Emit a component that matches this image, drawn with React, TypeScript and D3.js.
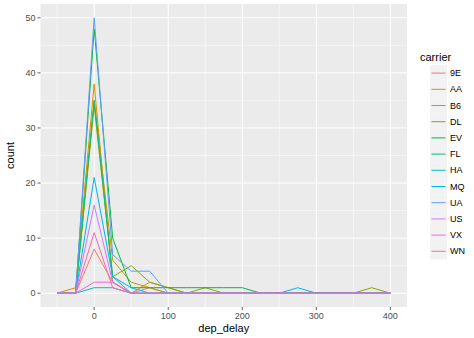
import React from "react";
import * as d3 from "d3";

const binCenters = [-50, -25, 0, 25, 50, 75, 100, 125, 150, 175, 200, 225, 250, 275, 300, 325, 350, 375, 400];
const carriers = ["9E", "AA", "B6", "DL", "EV", "FL", "HA", "MQ", "UA", "US", "VX", "WN"];
const colors = ["#F8766D", "#DE8C00", "#B79F00", "#7CAE00", "#00BA38", "#00C08B", "#00BFC4", "#00B4F0", "#619CFF", "#C77CFF", "#F564E3", "#FF64B0"];

const c9E = [0, 0, 8, 2, 0, 1, 0, 0, 0, 0, 0, 0, 0, 0, 0, 0, 0, 0, 0];
const cAA = [0, 1, 38, 2, 0, 2, 1, 0, 0, 0, 0, 0, 0, 0, 0, 0, 0, 0, 0];
const cB6 = [0, 0, 35, 6, 2, 1, 0, 0, 0, 0, 0, 0, 0, 0, 0, 0, 0, 0, 0];
const cDL = [0, 0, 34, 3, 5, 2, 1, 0, 1, 0, 0, 0, 0, 0, 0, 0, 0, 1, 0];
const cEV = [0, 0, 48, 10, 1, 1, 1, 1, 1, 1, 1, 0, 0, 0, 0, 0, 0, 0, 0];
const cFL = [0, 0, 35, 3, 0, 0, 0, 0, 0, 0, 0, 0, 0, 0, 0, 0, 0, 0, 0];
const cHA = [0, 0, 1, 1, 0, 0, 0, 0, 0, 0, 0, 0, 0, 0, 0, 0, 0, 0, 0];
const cMQ = [0, 0, 21, 3, 1, 0, 0, 0, 0, 0, 0, 0, 0, 1, 0, 0, 0, 0, 0];
const cUA = [0, 0, 50, 7, 4, 4, 0, 0, 0, 0, 0, 0, 0, 0, 0, 0, 0, 0, 0];
const cUS = [0, 0, 16, 2, 0, 0, 0, 0, 0, 0, 0, 0, 0, 0, 0, 0, 0, 0, 0];
const cVX = [0, 0, 2, 2, 0, 0, 0, 0, 0, 0, 0, 0, 0, 0, 0, 0, 0, 0, 0];
const cWN = [0, 0, 11, 1, 0, 0, 0, 0, 0, 0, 0, 0, 0, 0, 0, 0, 0, 0, 0];
const counts = [c9E, cAA, cB6, cDL, cEV, cFL, cHA, cMQ, cUA, cUS, cVX, cWN];

const xTicks = [0, 100, 200, 300, 400];
const xMinor = [-50, 50, 150, 250, 350];
const yTicks = [0, 10, 20, 30, 40, 50];
const yMinor = [5, 15, 25, 35, 45];

export default function App() {
  const W = 474, H = 338;
  const left = 40.5, right = 407, top = 4, bottom = 307;
  const x = d3.scaleLinear().domain([-72.5, 422.5]).range([left, right]);
  const y = d3.scaleLinear().domain([-2.5, 52.5]).range([bottom, top]);
  const line = d3.line<number>().x((_, i) => x(binCenters[i])).y((d) => y(d));
  const font = "'Liberation Sans', Arial, sans-serif";
  const keyH = 16.2;
  const key0 = 65;
  return (
    <svg width={W} height={H} style={{ position: "absolute", left: 0, top: 0 }} fontFamily={font}>
      <rect x={0} y={0} width={W} height={H} fill="#fff" />
      <rect x={left} y={top} width={right - left} height={bottom - top} fill="#EBEBEB" />
      {xMinor.map((t) => (
        <line key={"xm" + t} x1={x(t)} x2={x(t)} y1={top} y2={bottom} stroke="#fff" strokeWidth={0.5} />
      ))}
      {yMinor.map((t) => (
        <line key={"ym" + t} x1={left} x2={right} y1={y(t)} y2={y(t)} stroke="#fff" strokeWidth={0.5} />
      ))}
      {xTicks.map((t) => (
        <line key={"x" + t} x1={x(t)} x2={x(t)} y1={top} y2={bottom} stroke="#fff" strokeWidth={1} />
      ))}
      {yTicks.map((t) => (
        <line key={"y" + t} x1={left} x2={right} y1={y(t)} y2={y(t)} stroke="#fff" strokeWidth={1} />
      ))}
      {counts.map((c, i) => (
        <path key={carriers[i]} d={line(c) || ""} fill="none" stroke={colors[i]} strokeWidth={1} />
      ))}
      {xTicks.map((t) => (
        <g key={"xt" + t}>
          <line x1={x(t)} x2={x(t)} y1={bottom} y2={bottom + 3} stroke="#333" strokeWidth={0.8} />
          <text x={x(t)} y={bottom + 12} textAnchor="middle" fontSize={9} fill="#4D4D4D">{t}</text>
        </g>
      ))}
      {yTicks.map((t) => (
        <g key={"yt" + t}>
          <line x1={left - 3} x2={left} y1={y(t)} y2={y(t)} stroke="#333" strokeWidth={0.8} />
          <text x={left - 5} y={y(t) + 3} textAnchor="end" fontSize={9} fill="#4D4D4D">{t}</text>
        </g>
      ))}
      <text x={(left + right) / 2} y={332} textAnchor="middle" fontSize={11} fill="#000">dep_delay</text>
      <text transform={`translate(14,${(top + bottom) / 2}) rotate(-90)`} textAnchor="middle" fontSize={11} fill="#000">count</text>
      <text x={420} y={61} fontSize={11} fill="#000">carrier</text>
      {carriers.map((cName, i) => {
        const ky = key0 + i * keyH;
        return (
          <g key={"lg" + cName}>
            <rect x={430} y={ky} width={17} height={keyH} fill="#F2F2F2" />
            <line x1={431.5} x2={445.5} y1={ky + keyH / 2} y2={ky + keyH / 2} stroke={colors[i]} strokeWidth={1} />
            <text x={450} y={ky + keyH / 2 + 3} fontSize={9} fill="#000">{cName}</text>
          </g>
        );
      })}
    </svg>
  );
}
